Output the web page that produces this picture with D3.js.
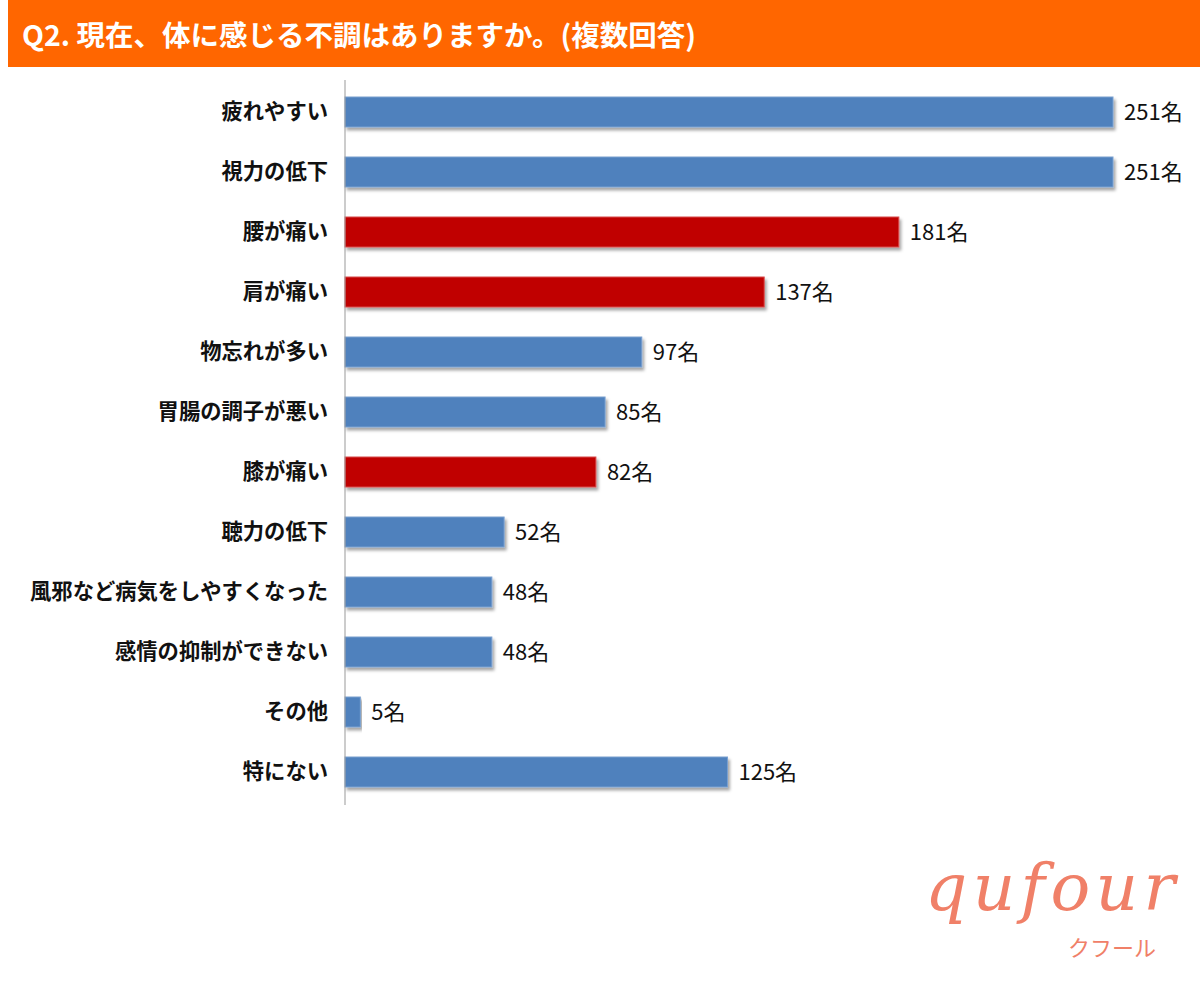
<!DOCTYPE html>
<html><head><meta charset="utf-8">
<script src="https://cdn.jsdelivr.net/npm/d3@7"></script>
<style>body{margin:0;background:#fff}svg{display:block}</style>
</head><body>
<script>
const categories = ["疲れやすい","視力の低下","腰が痛い","肩が痛い","物忘れが多い","胃腸の調子が悪い","膝が痛い","聴力の低下","風邪など病気をしやすくなった","感情の抑制ができない","その他","特にない"];
const values = [251,251,181,137,97,85,82,52,48,48,5,125];
const highlighted = [false,false,true,true,false,false,true,false,false,false,false,false];
const title = "Q2. 現在、体に感じる不調はありますか。(複数回答)";
const unit = "名";

const W=1200,H=984;
const svg=d3.select("body").append("svg").attr("width",W).attr("height",H);
const jp="'Noto Sans CJK JP','Noto Sans',sans-serif";

svg.append("rect").attr("x",8).attr("y",0).attr("width",W-8).attr("height",67).attr("fill","#ff6600");
svg.append("text").attr("x",22).attr("y",46).attr("fill","#fff").attr("font-family",jp)
  .attr("font-weight","bold").attr("font-size",28.5).text(title);

const x=d3.scaleLinear().domain([0,251]).range([345,1113]);
const y=d3.scaleBand().domain(categories).range([82,802]).paddingInner(0.5).paddingOuter(0.25);

const defs=svg.append("defs");
const f=defs.append("filter").attr("id","sh").attr("x","-5%").attr("y","-30%").attr("width","115%").attr("height","180%");
f.append("feDropShadow").attr("dx",2).attr("dy",3).attr("stdDeviation",1.5).attr("flood-color","#000").attr("flood-opacity",0.35);

const g=svg.append("g");
g.selectAll("rect.bar").data(categories).join("rect").attr("class","bar")
  .attr("x",x(0)).attr("y",d=>y(d)).attr("height",y.bandwidth())
  .attr("width",(d,i)=>x(values[i])-x(0))
  .attr("fill",(d,i)=>highlighted[i]?"#c00000":"#4f81bd")
  .attr("stroke",(d,i)=>highlighted[i]?"#d84a4a":"#7aa0d0").attr("stroke-width",1)
  .attr("filter","url(#sh)");

const axis=d3.axisLeft(y).tickSize(0).tickPadding(17);
const ag=svg.append("g").attr("transform",`translate(${x(0)},0)`).call(axis);
ag.select(".domain").attr("stroke","#999").attr("stroke-width",1).attr("d","M0,80V805");
ag.selectAll("text").attr("font-family",jp).attr("font-weight","bold").attr("font-size",21.3).attr("fill","#111");

g.selectAll("text.val").data(categories).join("text").attr("class","val")
  .attr("x",(d,i)=>x(values[i])+11).attr("y",d=>y(d)+y.bandwidth()/2).attr("dy","0.36em")
  .attr("font-family",jp).attr("font-size",22).attr("fill","#111")
  .text((d,i)=>values[i]+unit);

svg.append("text").attr("x",925).attr("y",910).attr("fill","#f08068")
  .attr("font-family","'DejaVu Serif',serif").attr("font-style","italic").attr("font-size",66).attr("textLength",250).text("qufour");
svg.append("text").attr("x",1068).attr("y",956).attr("fill","#f08068")
  .attr("font-family",jp).attr("font-size",22).text("クフール");
</script>
</body></html>
